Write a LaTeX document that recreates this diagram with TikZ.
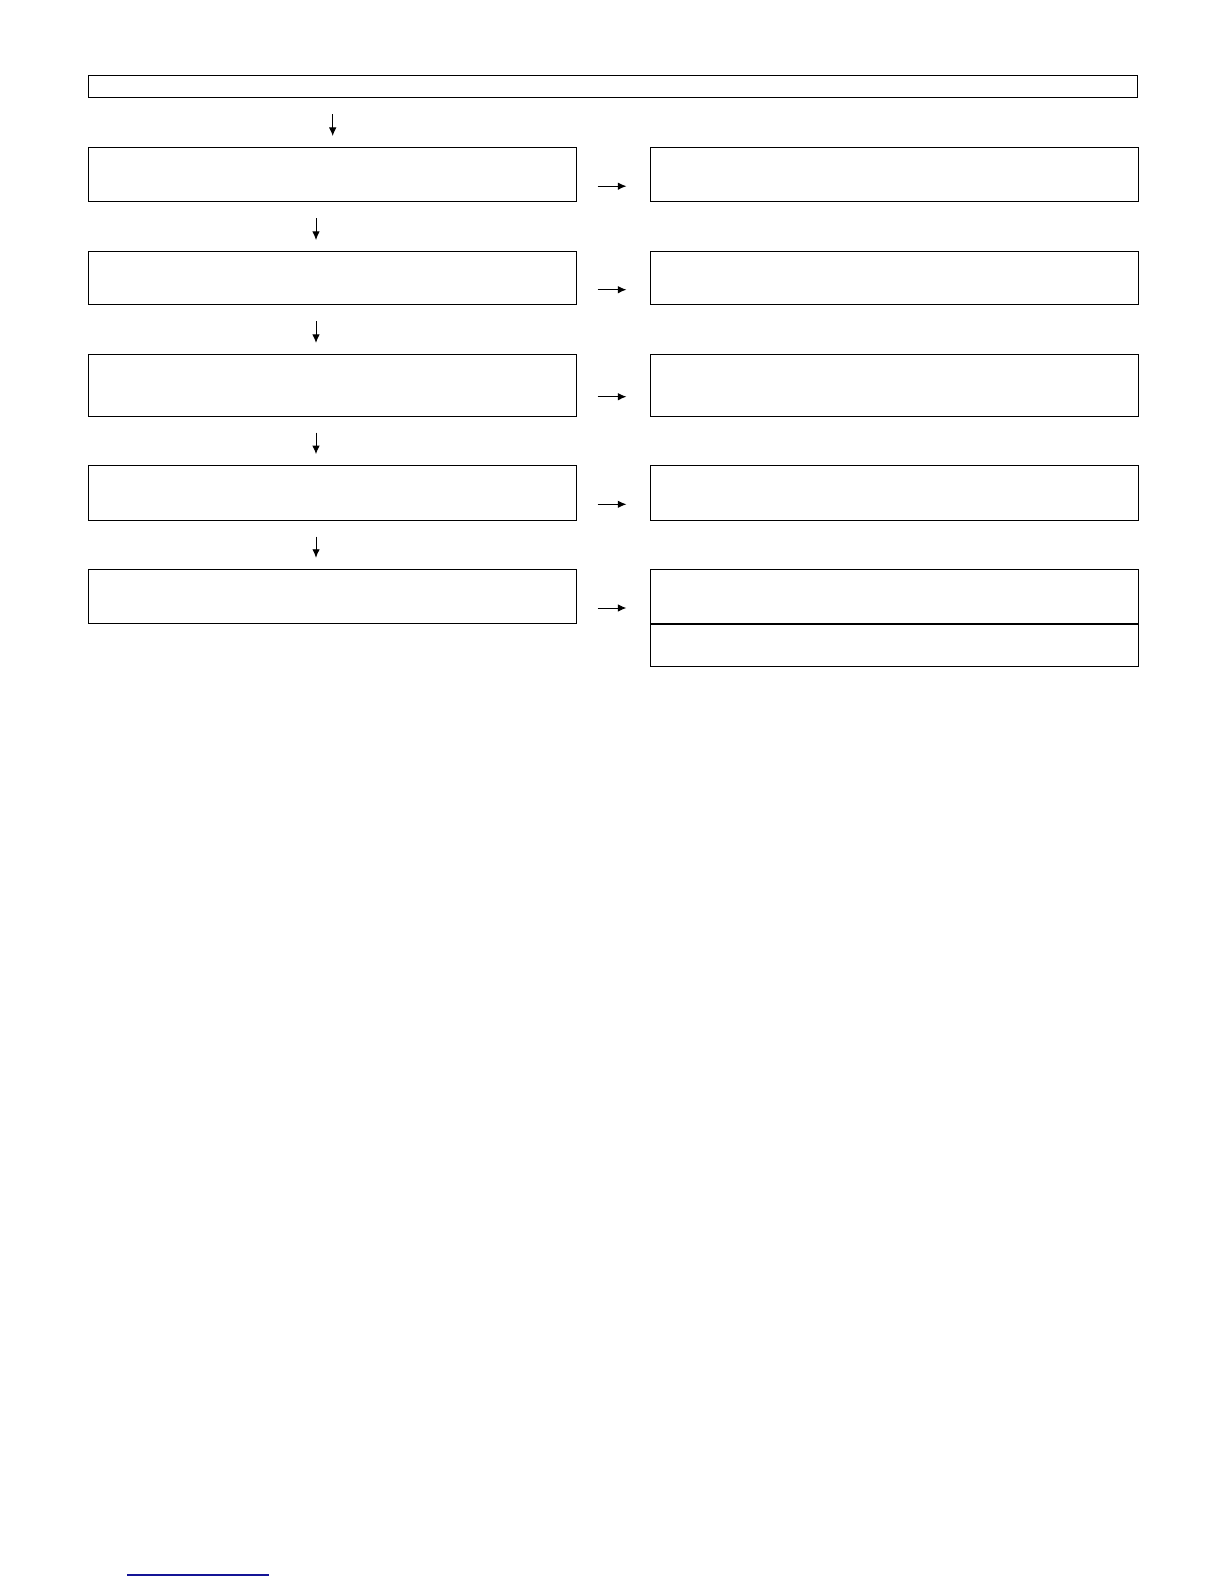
\documentclass[tikz,border=0pt]{standalone}
\usepackage{tikz}
\usetikzlibrary{arrows.meta}
\definecolor{black}{cmyk}{0,0,0.0,1.0}
\definecolor{linkblue}{RGB}{20,20,150}
\begin{document}
\begin{tikzpicture}[x=1pt,y=-1pt]
    \tikzset{%
      box/.style={draw, line width=1pt, inner sep=0pt, minimum
        width=487.7pt, minimum height=54.5pt},
      wide/.style={draw, line width=1pt, inner sep=0pt, minimum
        width=1049pt, minimum height=22pt},
      darr/.style={-{Latex[length=8.5pt,width=7.5pt]}, line width=0.9pt,
        shorten <=16pt, shorten >=11pt},
      rarr/.style={-{Latex[length=8.5pt,width=7.5pt]}, line width=0.9pt,
        shorten <=20.5pt, shorten >=23.5pt},
    }
    \useasboundingbox (0,0) rectangle (1224,1584);
    \node[wide] (T) at (613.4,87) {};
    % left column
    \node[box] (L1) at (332.7,174.7) {};
    \node[box, minimum height=53.5pt] (L2) at (332.7,278.2) {};
    \node[box, minimum height=61.6pt] (L3) at (332.7,385.2) {};
    \node[box] (L4) at (332.7,492.8) {};
    \node[box] (L5) at (332.7,596.5) {};
    % right column
    \node[box] (R1) at (894.2,174.7) {};
    \node[box, minimum height=53.5pt] (R2) at (894.2,278.2) {};
    \node[box, minimum height=61.6pt] (R3) at (894.2,385.2) {};
    \node[box] (R4) at (894.2,492.8) {};
    \node[box] (R5) at (894.2,596.5) {};
    \node[box, minimum height=42pt, anchor=north] (R6) at (R5.south) {};

    \draw [darr] (T.south -| L1.north) -- (L1.north);
    \draw [darr] ([xshift=-16.7pt]L1.south) -- ([xshift=-16.7pt]L2.north);
    \draw [darr] ([xshift=-16.7pt]L2.south) -- ([xshift=-16.7pt]L3.north);
    \draw [darr] ([xshift=-16.7pt]L3.south) -- ([xshift=-16.7pt]L4.north);
    \draw [darr] ([xshift=-16.7pt]L4.south) -- ([xshift=-16.7pt]L5.north);

    \draw [rarr] ([yshift=-11.5pt]L1.east) -- ([yshift=-11.5pt]R1.west);
    \draw [rarr] ([yshift=-11.5pt]L2.east) -- ([yshift=-11.5pt]R2.west);
    \draw [rarr] ([yshift=-11.5pt]L3.east) -- ([yshift=-11.5pt]R3.west);
    \draw [rarr] ([yshift=-11.5pt]L4.east) -- ([yshift=-11.5pt]R4.west);
    \draw [rarr] ([yshift=-11.5pt]L5.east) -- ([yshift=-11.5pt]R5.west);

    \draw [linkblue, line width=1.2pt] (127,1575) -- (269,1575);
  \end{tikzpicture}
\end{document}
